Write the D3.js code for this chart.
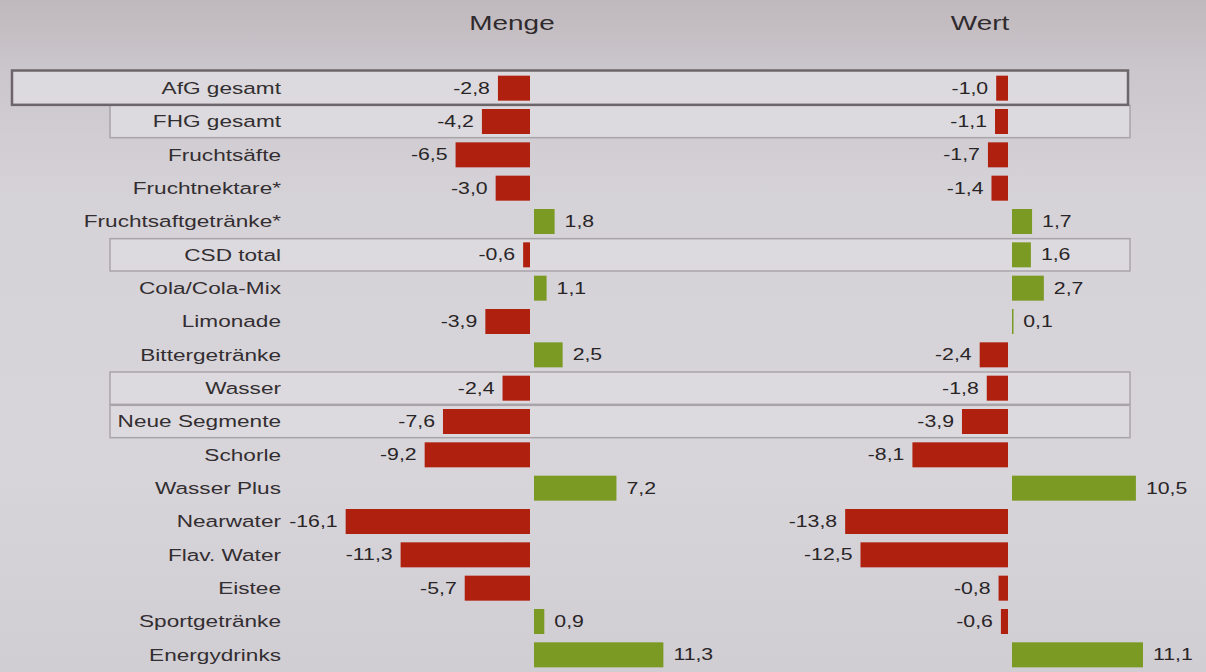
<!DOCTYPE html>
<html>
<head>
<meta charset="utf-8">
<script src="https://cdn.jsdelivr.net/npm/d3@7"></script>
<style>
html,body{margin:0;padding:0;background:#d4d0d6;}
svg{display:block;}
text{font-family:"Liberation Sans",Arial,sans-serif;}
</style>
</head>
<body>
<svg id="chart" width="1206" height="672"></svg>
<script>
const categories = ["AfG gesamt","FHG gesamt","Fruchtsäfte","Fruchtnektare*","Fruchtsaftgetränke*","CSD total","Cola/Cola-Mix","Limonade","Bittergetränke","Wasser","Neue Segmente","Schorle","Wasser Plus","Nearwater","Flav. Water","Eistee","Sportgetränke","Energydrinks"];
const menge = [-2.8,-4.2,-6.5,-3.0,1.8,-0.6,1.1,-3.9,2.5,-2.4,-7.6,-9.2,7.2,-16.1,-11.3,-5.7,0.9,11.3];
const wert  = [-1.0,-1.1,-1.7,-1.4,1.7,1.6,2.7,0.1,-2.4,-1.8,-3.9,-8.1,10.5,-13.8,-12.5,-0.8,-0.6,11.1];
const seriesTitles = ["Menge","Wert"];
const boxedMain = ["AfG gesamt"];
const boxedOther = ["FHG gesamt","CSD total","Wasser","Neue Segmente"];

const W = 1206, H = 672;
const SX = 1.33; // horizontal stretch of lettering seen in the reference
const svg = d3.select("#chart");

// background
const defs = svg.append("defs");
const grad = defs.append("linearGradient").attr("id","bg").attr("x1",0).attr("y1",0).attr("x2",0).attr("y2",1);
[[0,"#bfb8bd"],[0.1,"#cbc6cb"],[0.3,"#d6d3d8"],[0.7,"#d8d5da"],[1,"#d0cdd3"]].forEach(([o,c])=>grad.append("stop").attr("offset",o).attr("stop-color",c));
svg.append("rect").attr("width",W).attr("height",H).attr("fill","url(#bg)");

const y = d3.scaleBand().domain(categories).range([71.5, 671.5]).paddingInner(0.25).paddingOuter(0.125);
const step = y.step();
const pxM = 11.45, pxW = 11.8;
const xM = d3.scaleLinear().domain([-20, 15]).range([532 - 20*pxM, 532 + 15*pxM]);
const xW = d3.scaleLinear().domain([-20, 15]).range([1010 - 20*pxW, 1010 + 15*pxW]);

// highlight boxes
function rowBox(cat){ return {y0: y(cat) + y.bandwidth()/2 - step/2, y1: y(cat) + y.bandwidth()/2 + step/2}; }
boxedOther.forEach(c=>{
  const b = rowBox(c);
  svg.append("rect").attr("x",110).attr("y",b.y0+0.5).attr("width",1020).attr("height",b.y1-b.y0-1)
    .attr("fill","#dcdade").attr("stroke","#a9a4a9").attr("stroke-width",1.5);
});
boxedMain.forEach(c=>{
  const b = rowBox(c);
  svg.append("rect").attr("x",12).attr("y",b.y0-1).attr("width",1116).attr("height",b.y1-b.y0+1)
    .attr("fill","#dcdade").attr("stroke","#6c666a").attr("stroke-width",2.5);
});

function stretched(sel, xf, yf){
  return sel.attr("transform",(d,i)=>`translate(${xf(d,i)},${yf(d,i)}) scale(${SX},1)`);
}

// category labels
stretched(svg.append("g").selectAll("text").data(categories).join("text"),
    ()=>281, d=>y(d)+y.bandwidth()/2)
  .attr("dy","0.35em")
  .attr("text-anchor","end").attr("font-size",17).attr("fill","#332e31").text(d=>d);

// headers
const hdrX = [512, 980];
stretched(svg.append("g").selectAll("text").data(seriesTitles).join("text"),
    (d,i)=>hdrX[i], ()=>30)
  .attr("text-anchor","middle").attr("font-size",21).attr("fill","#2f2a2d").text(d=>d);

const fmt = v => d3.format(".1f")(v).replace(".",",").replace("−","-");
const red = "#b0200f", green = "#7b9a24";

function drawSeries(vals, x){
  const data = categories.map((c,i)=>({c, v: vals[i]}));
  const g = svg.append("g");
  g.selectAll("rect").data(data).join("rect")
    .attr("x",d=>Math.min(x(0),x(d.v)) + (d.v>=0?2:-2))
    .attr("y",d=>y(d.c))
    .attr("width",d=>Math.max(1.5, Math.abs(x(d.v)-x(0))))
    .attr("height",y.bandwidth())
    .attr("fill",d=>d.v>=0?green:red);
  stretched(g.selectAll("text").data(data).join("text"),
      d=> d.v>=0 ? x(d.v)+2+10 : x(d.v)-2-8,
      d=> y(d.c)+y.bandwidth()/2)
    .attr("dy","0.35em")
    .attr("text-anchor",d=>d.v>=0?"start":"end")
    .attr("font-size",16).attr("fill","#292527")
    .text(d=>fmt(d.v));
}
drawSeries(menge, xM);
drawSeries(wert, xW);
</script>
</body>
</html>
